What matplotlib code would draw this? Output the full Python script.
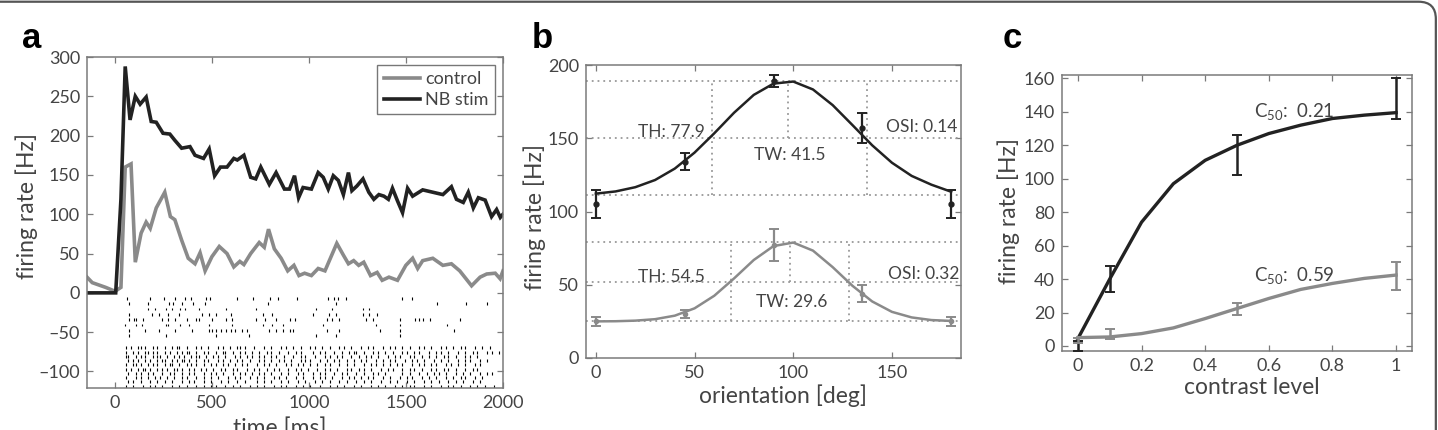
import matplotlib
matplotlib.use("Agg")
import matplotlib.pyplot as plt
from matplotlib.patches import FancyBboxPatch

plt.rcParams['font.family'] = ['Lato', 'DejaVu Sans']

# ---------------- data: panel a ----------------
nb_t = [-145, 0, 3, 30, 52, 77, 104, 129, 160, 186, 212, 247, 282, 308, 343, 386, 412, 456, 485,
        513, 543, 577, 612, 630, 664, 699, 725, 751, 795, 830, 873, 899, 925, 946, 969, 1012,
        1047, 1073, 1099, 1125, 1151, 1177, 1203, 1221, 1247, 1278, 1308, 1334, 1360, 1386,
        1409, 1430, 1456, 1482, 1508, 1534, 1586, 1638, 1690, 1734, 1760, 1795, 1821, 1847,
        1873, 1908, 1941, 1967, 1986, 2000]
nb_r = [0, 0, 0, 119, 288, 220, 250, 240, 249, 218, 217, 203, 202, 194, 184, 186, 175, 171, 183,
        149, 160, 160, 171, 169, 175, 147, 145, 160, 138, 153, 132, 132, 149, 121, 134, 132,
        153, 147, 132, 149, 143, 125, 153, 130, 136, 145, 128, 119, 125, 123,
        119, 133, 117, 102, 133, 123, 131, 128, 125, 135, 119, 115, 128, 108,
        121, 118, 97, 106, 96, 100]

ctl_t = [-145, -118, -49, 0, 30, 52, 82, 104, 134, 160, 181, 212, 256, 285, 308, 343, 377, 412,
         438, 464, 499, 537, 577, 612, 643, 664, 699, 743, 769, 791, 821, 856, 890, 922, 948,
         977, 1012, 1047, 1082, 1143, 1177, 1203, 1230, 1256, 1282, 1317, 1351, 1377, 1412,
         1456, 1499, 1534, 1560, 1586, 1638, 1690, 1734, 1777, 1838, 1882, 1916, 1960, 1985, 2000]
ctl_r = [20, 13, 7, 2, 7, 160, 164, 39, 76, 90, 82, 108, 128, 97, 93, 67, 44, 37,
         51, 28, 46, 59, 50, 33, 40, 36, 50, 64, 58, 81, 56, 44, 28, 35, 22,
         25, 22, 31, 28, 63, 48, 37, 41, 35, 39, 22, 26, 16, 20,
         16, 35, 44, 31, 41, 44, 35, 37, 28, 9, 20, 24, 25, 18, 28]

# raster: sparse trials (spike times in ms)
raster_sparse = [
    [60, 180, 250, 310, 360, 390, 470, 490, 630, 710, 800, 840, 940, 1100, 1130, 1150, 1190, 1480, 1530],
    [70, 170, 280, 300, 345, 400, 465, 790, 1140, 1660, 1810, 1920],
    [170, 205, 260, 295, 335, 360, 430, 570, 725, 1035, 1120, 1280, 1310],
    [70, 190, 225, 275, 330, 450, 485, 520, 595, 760, 810, 1020, 1105, 1140, 1280, 1310, 1350],
    [70, 95, 110, 145, 240, 275, 310, 370, 415, 430, 500, 570, 605, 725, 775, 830, 900, 930, 1090,
     1120, 1155, 1295, 1330, 1470, 1545, 1565, 1590, 1625, 1780],
    [50, 110, 140, 260, 275, 335, 380, 485, 605, 760, 810, 865, 1070, 1345, 1470, 1710],
    [70, 155, 225, 310, 395, 485, 500, 520, 545, 570, 595, 620, 655, 680, 795, 830, 865, 900, 915,
     1090, 1155, 1365, 1470, 1745],
    [70, 260, 520, 690, 1035, 1140, 1470],
]
# raster: dense trials, one character per 12.5 ms bin ('|' = spike)
raster_dense = [
    "....|.|..||.|..|.|..|..|.||..|...|.|..|...|.|..|..||.|...|...|..|...|.|..|..|...|.|..|..|...|.|..|...|..|.|...|..|.|..|..|...|.|..|...|.|..|..|.|...|..|..|.",
    "....|..|.|..||.|.|..|.|..|.|.||..|..|.|..|..||..|..|.|..|..|..|.|..|...|..|.|....|..|.|...|..|..|.||..|...|.|..|..|...|.|..|.|...|..|.|..|...|..|..|.|...|.|..|",
    "....||..|.|.|..|.||..|..|.|.|..|.||..|..|.|..|...|.|..|.|..|.|..|.|..|...|..|.|...|...|.|..|.|...|..|..|.|..|...|..|.|...|.|..|..|..|..|.|..|...|.|..|...",
    ".....|.|.|..|.|..|.||..|.|.||.|..|..|.|...|.|..|..|.|..|...|.|..|..|.|..|...|.|.|...|..|..|.|..|..|..|.|...|..|..|.|...|..|.|..|...|..|..|...|..|.|...|..|.",
    "....|..||.|..|.|.|..|.||..|..|.|.|..|..|.|..|.|..|..|.|...|..|.|..|...|.|..|.|..|..|..|.|...|..|..|...|..|.|..|..|..|.|...|..|.|..|.|...|.|..|..|...|.|",
    "....|.|..|.||.|..|.|.|..||.|..|.|..|.|..|..|.|..|.|...|..|.|..|..|.|...|..|.|..|...|..|.|..|...|.|..|.|..|...|..|.|...|..|.|..|...|.|..|.|..|...|..|.|...",
    ".....|..|.|..|.|...|..|.|..|..|.|...|..|.|..|...|..|.|..|..|.|..|...|..|...|.|...|..|.|...|..|.|...|..|...|.|..|......|..|...|..|..|.|..|...|..|..|...|..|.|.",
    "....|...|.|..|..|.|..|..|..|.|...|..|..|..|...|..|.|...|..|..|...|.|..|...|..|...|..|.|..|...|..|.|..|..|.|...|..|...|..|.|...|..|..|...|..|..|.|...|..|",
    ".....|.|..|...|..|..|..|...|..|.|...|..|...|..|...|..|....|..|..|...|..|...|..|...|..|..|...|..|...|..|..|...|...|..|...|..|...|..|..|...|..|..|...|..|",
    "....|..|...|..|.|..|...|..|..|...|..|..|.|...|..|..|...|..|..|...|..|.|...|..|..|...|...|..|..|...|..|...|..|..|...|..|..|.|...|..|...|..|.|..|...|..|..|...|.",
]

# ---------------- data: panel b ----------------
ori = [0, 45, 90, 135, 180]
nb_ori_mean = [105, 134, 189, 157, 105]
nb_ori_err = [9.5, 6, 4, 10, 9.5]
ctl_ori_mean = [25, 30, 77, 44, 25]
ctl_ori_err = [3, 3, 11, 6, 3]
fit_ori = [0, 10, 20, 30, 40, 50, 60, 70, 80, 90, 100, 110, 120, 130, 140, 150, 160, 170, 180]
nb_fit = [112.2, 113.7, 116.6, 121.5, 129.3, 140.2, 153.4, 167.4, 179.6, 187.3, 188.7, 183.3,
          172.6, 159.0, 145.2, 133.3, 124.3, 118.3, 113.5]
ctl_fit = [25.0, 25.1, 25.5, 26.5, 28.9, 33.9, 42.5, 54.3, 66.9, 76.4, 78.8, 73.3,
           62.0, 49.3, 38.6, 31.5, 27.7, 25.9, 25.3]
nb_levels = [111, 150, 189]       # baseline, half height, peak
nb_vx = [58.6, 97.3, 137.4]       # half-height edges and preferred orientation
ctl_levels = [25, 52, 79]
ctl_vx = [68.7, 98.3, 128.4]
nb_b_text = ["TH: 77.9", "TW: 41.5", "OSI: 0.14"]
ctl_b_text = ["TH: 54.5", "TW: 29.6", "OSI: 0.32"]

# ---------------- data: panel c ----------------
con = [0, 0.1, 0.5, 1.0]
nb_con_mean = [0, 40, 114, 148]
nb_con_err = [3, 8, 12, 12.5]
ctl_con_mean = [3.4, 7.4, 22, 42]
ctl_con_err = [1.5, 3, 3.7, 8.5]
fit_con = [0, 0.1, 0.2, 0.3, 0.4, 0.5, 0.6, 0.7, 0.8, 0.9, 1.0]
nb_con_fit = [4.4, 40, 74, 97, 111, 120, 127, 132, 136, 138, 139.5]
ctl_con_fit = [5, 5.4, 7.4, 10.8, 16.4, 22.4, 28.4, 33.8, 37.4, 40.4, 42.4]
c50_text = ["0.21", "0.59"]

# ---------------- styling ----------------
W, H = 1438, 430
fig = plt.figure(figsize=(W / 100, H / 100), dpi=100)
BLACK = '#222222'
GRAY = '#8a8a8a'
SPINE = '#7a7a7a'
TXT = '#444444'
TICK_FS = 13
LAB_FS = 16.5


def ax_rect(l, t, r, b):
    return [l / W, (H - b) / H, (r - l) / W, (b - t) / H]


def style(ax):
    for s in ax.spines.values():
        s.set_color(SPINE)
        s.set_linewidth(1.1)
    ax.tick_params(direction='in', length=4, width=0.9, color=SPINE, labelcolor=TXT,
                   labelsize=TICK_FS, top=True, right=True, pad=5)


# border
border = FancyBboxPatch((-0.02, -0.1), 1.0185, 1.096, boxstyle="round,pad=0,rounding_size=0.012",
                        transform=fig.transFigure, fill=False, edgecolor='#555555', linewidth=1.6,
                        mutation_aspect=W / H, clip_on=False)
fig.patches.append(border)

# ---------------- panel a ----------------
axa = fig.add_axes(ax_rect(87, 57, 503, 388))
style(axa)
axa.plot(ctl_t, ctl_r, color=GRAY, lw=2.6, label='control', solid_joinstyle='miter')
axa.plot(nb_t, nb_r, color=BLACK, lw=2.6, label='NB stim', solid_joinstyle='miter')
for i, row in enumerate(raster_sparse):
    y0 = -7 - 6.8 * i
    axa.vlines(row, y0 - 1.7, y0 + 1.7, color='black', lw=0.8)
for i, row in enumerate(raster_dense):
    y0 = -70 - 5.4 * i
    ts = [12.5 * k + 6 for k, ch in enumerate(row) if ch == '|']
    axa.vlines(ts, y0 - 1.8, y0 + 1.8, color='black', lw=0.8)
axa.set_xlim(-145, 2000)
axa.set_ylim(-121, 300)
axa.set_xticks([0, 500, 1000, 1500, 2000])
axa.set_yticks([-100, -50, 0, 50, 100, 150, 200, 250, 300])
axa.set_yticklabels(['\u2013100', '\u201350', '0', '50', '100', '150', '200', '250', '300'])
axa.set_ylabel('firing rate [Hz]', fontsize=LAB_FS, color=TXT, va='center')
axa.yaxis.set_label_coords(-0.144, 0.55)
axa.set_xlabel('time [ms]', fontsize=LAB_FS, color=TXT, va='top')
axa.xaxis.set_label_coords(0.464, -0.09)
leg = axa.legend(loc='upper right', fontsize=13, handlelength=2.0, handletextpad=0.3,
                 borderpad=0.35, labelspacing=0.25, fancybox=False, framealpha=1,
                 borderaxespad=0.45)
leg.get_frame().set_edgecolor('#777777')
leg.get_frame().set_linewidth(1.0)
for t in leg.get_texts():
    t.set_color(TXT)

# ---------------- panel b ----------------
axb = fig.add_axes(ax_rect(586, 65, 961, 358))
style(axb)
DOT = dict(color='#999999', lw=1.3, linestyle=(0, (1, 2.2)))
for lv, vx in ((nb_levels, nb_vx), (ctl_levels, ctl_vx)):
    for yv in lv:
        axb.axhline(yv, **DOT)
    axb.plot([vx[0], vx[0]], [lv[0], lv[2]], **DOT)
    axb.plot([vx[2], vx[2]], [lv[0], lv[2]], **DOT)
    axb.plot([vx[1], vx[1]], [lv[1], lv[2]], **DOT)
axb.plot(fit_ori, nb_fit, color=BLACK, lw=1.8)
axb.plot(fit_ori, ctl_fit, color=GRAY, lw=1.8)
axb.errorbar(ori, nb_ori_mean, yerr=nb_ori_err, fmt='o', ms=3.5, color=BLACK, capsize=3.5,
             elinewidth=1.6, capthick=1.4, clip_on=False, zorder=5)
axb.errorbar(ori, ctl_ori_mean, yerr=ctl_ori_err, fmt='o', ms=3, color=GRAY, capsize=3.5,
             elinewidth=1.6, capthick=1.4, clip_on=False, zorder=5)
TFS = 12.5
axb.text(55, 154, nb_b_text[0], ha='right', va='center', fontsize=TFS, color=TXT)
axb.text(98, 138.5, nb_b_text[1], ha='center', va='center', fontsize=TFS, color=TXT)
axb.text(147, 158, nb_b_text[2], ha='left', va='center', fontsize=TFS, color=TXT)
axb.text(55, 55.5, ctl_b_text[0], ha='right', va='center', fontsize=TFS, color=TXT)
axb.text(99, 38.5, ctl_b_text[1], ha='center', va='center', fontsize=TFS, color=TXT)
axb.text(148, 57, ctl_b_text[2], ha='left', va='center', fontsize=TFS, color=TXT)
axb.set_xlim(-5, 185)
axb.set_ylim(0, 200)
axb.set_xticks([0, 50, 100, 150])
axb.set_yticks([0, 50, 100, 150, 200])
axb.set_ylabel('firing rate [Hz]', fontsize=LAB_FS, color=TXT, va='center')
axb.yaxis.set_label_coords(-0.138, 0.48)
axb.set_xlabel('orientation [deg]', fontsize=LAB_FS, color=TXT, va='center')
axb.xaxis.set_label_coords(0.525, -0.128)

# ---------------- panel c ----------------
axc = fig.add_axes(ax_rect(1062, 75, 1412, 351))
style(axc)
axc.plot(fit_con, nb_con_fit, color=BLACK, lw=2.4)
axc.plot(fit_con, ctl_con_fit, color=GRAY, lw=2.4)
axc.errorbar(con, nb_con_mean, yerr=nb_con_err, fmt='none', color=BLACK, capsize=3.5,
             elinewidth=1.8, capthick=1.4, clip_on=True, zorder=5)
axc.errorbar(con, ctl_con_mean, yerr=ctl_con_err, fmt='none', color=GRAY, capsize=3.5,
             elinewidth=1.8, capthick=1.4, clip_on=True, zorder=5)
axc.text(0.555, 139.5, 'C$_{\\mathregular{50}}$:  ' + c50_text[0], ha='left', va='center',
         fontsize=13.5, color=TXT)
axc.text(0.555, 41.5, 'C$_{\\mathregular{50}}$:  ' + c50_text[1], ha='left', va='center',
         fontsize=13.5, color=TXT)
axc.set_xlim(-0.05, 1.05)
axc.set_ylim(-3, 162)
axc.set_xticks([0, 0.2, 0.4, 0.6, 0.8, 1.0])
axc.set_xticklabels(['0', '0.2', '0.4', '0.6', '0.8', '1'])
axc.set_yticks([0, 20, 40, 60, 80, 100, 120, 140, 160])
axc.set_ylabel('firing rate [Hz]', fontsize=LAB_FS, color=TXT, va='center')
axc.yaxis.set_label_coords(-0.152, 0.507)
axc.set_xlabel('contrast level', fontsize=LAB_FS, color=TXT, va='center')
axc.xaxis.set_label_coords(0.543, -0.134)

# panel letters
for x, lab in ((22, 'a'), (532, 'b'), (1003, 'c')):
    fig.text(x / W, 1 - 48 / H, lab, fontsize=25, fontweight='bold', color='black',
             ha='left', va='baseline', family=['Liberation Sans', 'DejaVu Sans'])

fig.savefig('out.png', dpi=100)
